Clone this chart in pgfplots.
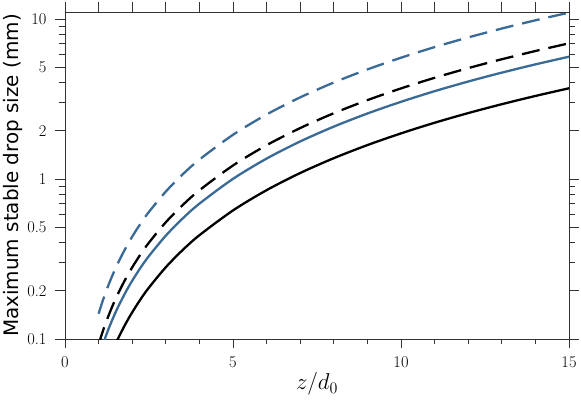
\RequirePackage{fix-cm}
\documentclass[border=0pt]{standalone}
\usepackage{fontspec}
\newfontfamily\djv{DejaVu Sans}
\usepackage{pgfplots}
\pgfplotsset{compat=1.18}
\definecolor{sblue}{RGB}{58,106,150}
\definecolor{spine}{RGB}{50,50,50}

\pgfplotstableread{
x y
1.00 0.1439
1.10 0.1676
1.20 0.1926
1.30 0.2190
1.40 0.2465
1.50 0.2753
1.60 0.3053
1.80 0.3686
2.00 0.4362
2.25 0.5267
2.50 0.6234
3.00 0.8346
3.50 1.068
4.00 1.322
5.00 1.890
6.00 2.530
7.00 3.238
8.00 4.009
9.00 4.840
10.0 5.729
11.0 6.675
12.0 7.670
13.0 8.717
14.0 9.814
15.0 10.962
}\bluedashed

\pgfplotstableread{
x y
1.00 0.0925
1.10 0.1077
1.20 0.1238
1.30 0.1407
1.40 0.1585
1.50 0.1770
1.60 0.1962
1.80 0.2369
2.00 0.2804
2.25 0.3386
2.50 0.4007
3.00 0.5365
3.50 0.6865
4.00 0.8500
5.00 1.2148
6.00 1.6264
7.00 2.0814
8.00 2.5769
9.00 3.1112
10.0 3.6825
11.0 4.2907
12.0 4.9305
13.0 5.6033
14.0 6.3085
15.0 7.0467
}\blackdashed

\pgfplotstableread{
x y
1.10 0.0889
1.20 0.1021
1.30 0.1161
1.40 0.1307
1.50 0.1460
1.60 0.1619
1.80 0.1954
2.00 0.2313
2.25 0.2793
2.50 0.3305
3.00 0.4425
3.50 0.5662
4.00 0.7012
5.00 1.0020
6.00 1.3416
7.00 1.7169
8.00 2.1256
9.00 2.5664
10.0 3.0376
11.0 3.5393
12.0 4.0668
13.0 4.6218
14.0 5.2037
15.0 5.8125
}\bluesolid

\pgfplotstableread{
x y
1.40 0.0830
1.50 0.0927
1.60 0.1028
1.80 0.1241
2.00 0.1468
2.25 0.1773
2.50 0.2098
3.00 0.2809
3.50 0.3595
4.00 0.4452
5.00 0.6362
6.00 0.8517
7.00 1.0900
8.00 1.3494
9.00 1.6293
10.0 1.9285
11.0 2.2469
12.0 2.5820
13.0 2.9342
14.0 3.3036
15.0 3.6902
}\blacksolid

\begin{document}
\begin{tikzpicture}
\useasboundingbox (-65bp,-62bp) rectangle (516bp,339bp);
\begin{axis}[
at={(0,0)}, anchor=south west,
scale only axis, width=504bp, height=327bp,
xmin=0, xmax=15,
ymode=log, ymin=0.1, ymax=11.06,
xtick={0,5,10,15}, xticklabels={0,5,10,15},
minor xtick={1,2,3,4,6,7,8,9,11,12,13,14},
ytick={0.1,0.2,0.5,1,2,5,10},
yticklabels={0.1,0.2,0.5,1,2,5,10},
minor ytick={0.3,0.4,0.6,0.7,0.8,0.9,3,4,6,7,8,9},
xtick pos=left, ytick pos=both,
tick align=outside,
major tick length=9.5bp, minor tick length=5.5bp,
axis line style={spine, line width=0.9bp},
every tick/.style={spine, line width=0.9bp},
tick label style={font=\fontsize{16.5}{19}\selectfont},
yticklabel style={xshift=-5.5bp},
xticklabel style={yshift=-5bp},
xlabel={$z/d_0$},
ylabel={Maximum stable drop size (mm)},
xlabel style={at={(axis description cs:0.5,0)}, anchor=center, yshift=-45bp, font=\fontsize{23}{27}\selectfont},
ylabel style={at={(axis description cs:-0.1022,0.5)}, anchor=center, font=\djv\fontsize{20}{24}\selectfont},
]
\addplot[black, line width=2.3bp, smooth] table {\blacksolid};
\addplot[sblue, line width=2.3bp, smooth] table {\bluesolid};
\addplot[black, line width=2.3bp, smooth, dash pattern=on 18bp off 9bp] table {\blackdashed};
\addplot[sblue, line width=2.3bp, smooth, dash pattern=on 18bp off 9bp] table {\bluedashed};
\end{axis}
\begin{axis}[
at={(0,0)}, anchor=south west,
scale only axis, width=504bp, height=327bp,
xmin=0, xmax=15, ymin=0, ymax=1,
axis x line*=top, axis y line=none,
xtick={0,...,15}, xticklabels={},
tick align=outside, major tick length=9.5bp,
axis line style={spine, line width=0.9bp},
every tick/.style={spine, line width=0.9bp},
]
\end{axis}
\end{tikzpicture}
\end{document}
